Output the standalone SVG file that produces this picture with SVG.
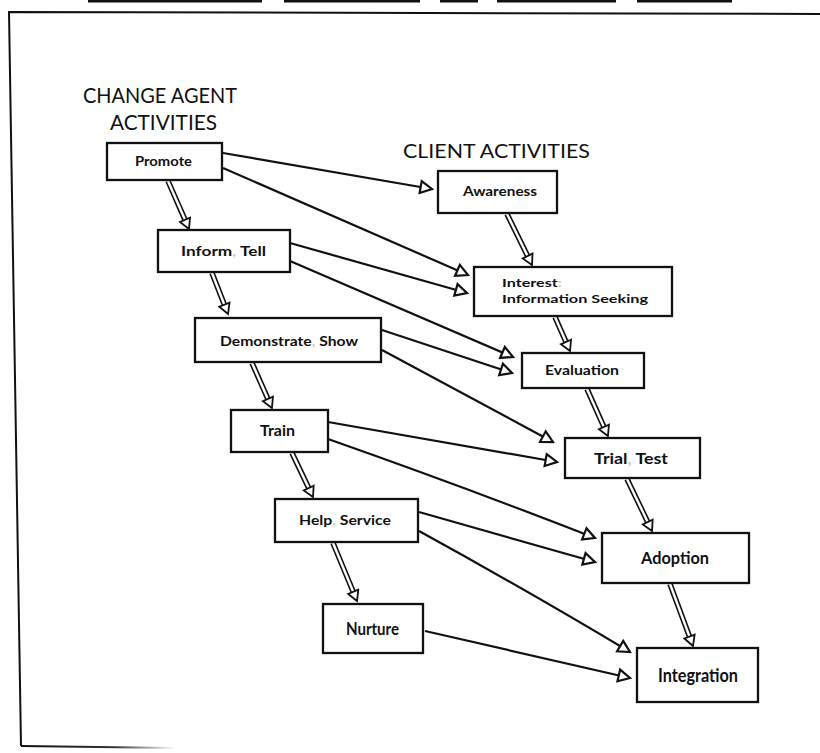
<svg xmlns="http://www.w3.org/2000/svg" width="820" height="753" viewBox="0 0 820 753">
<style>
.box{fill:#fff;stroke:#111;stroke-width:2.3}
.lbl{font-family:Lato,"Liberation Sans",sans-serif;font-weight:bold;fill:#111}
.hdr{font-family:Lato,"Liberation Sans",sans-serif;font-weight:normal;fill:#111}
.faint{fill:#c8c8c8}
.one{fill:none;stroke:#111;stroke-width:2.2;marker-end:url(#ah)}
.dout{fill:none;stroke:#111;stroke-width:5.6}
.din{fill:none;stroke:#fff;stroke-width:2.4;marker-end:url(#dh)}
.frame{fill:none;stroke:#111;stroke-width:2}
</style>
<defs>
<marker id="ah" viewBox="0 0 16 16" refX="14" refY="8" markerWidth="16" markerHeight="16" orient="auto" markerUnits="userSpaceOnUse">
<path d="M2.5,2 L14,8 L2.5,14 Z" fill="#fff" stroke="#111" stroke-width="2.2"/>
</marker>
<marker id="dh" viewBox="0 0 14 14" refX="2" refY="7" markerWidth="14" markerHeight="14" orient="auto" markerUnits="userSpaceOnUse">
<path d="M2,1.5 L12,7 L2,12.5 Z" fill="#fff" stroke="#111" stroke-width="1.8"/>
</marker>
<linearGradient id="fade" x1="21" y1="0" x2="175" y2="0" gradientUnits="userSpaceOnUse">
<stop offset="0" stop-color="#111"/><stop offset="0.6" stop-color="#333"/><stop offset="1" stop-color="#fff"/>
</linearGradient>
</defs>
<rect width="820" height="753" fill="#fff"/>
<g id="topbars" fill="#111">
<rect x="88" y="0" width="174" height="2.5"/>
<rect x="284" y="0" width="136" height="2.5"/>
<rect x="440" y="0" width="38" height="2.5"/>
<rect x="497" y="0" width="119" height="2.5"/>
<rect x="637" y="0" width="95" height="2.5"/>
</g>
<g id="frame">
<path class="frame" d="M820,14 L9,12 L21,746"/>
<path d="M21,746 L175,748" fill="none" stroke="url(#fade)" stroke-width="2"/>
</g>
<g id="headers">
<text class="hdr" x="83" y="103" font-size="20.5" textLength="154" lengthAdjust="spacingAndGlyphs">CHANGE AGENT</text>
<text class="hdr" x="110" y="130" font-size="20.5" textLength="107" lengthAdjust="spacingAndGlyphs">ACTIVITIES</text>
<text class="hdr" x="403" y="158" font-size="19" textLength="187" lengthAdjust="spacingAndGlyphs">CLIENT ACTIVITIES</text>
</g>
<g id="connectors">
<path class="one" d="M223,153 L432,189"/>
<path class="one" d="M223,168 L468,275"/>
<path class="one" d="M290,243 L467,293"/>
<path class="one" d="M290,261 L513,357"/>
<path class="one" d="M382,330 L512,373"/>
<path class="one" d="M382,350 L553,442"/>
<path class="one" d="M328,422 L557,462"/>
<path class="one" d="M328,439 Q470,489 595,538"/>
<path class="one" d="M419,512 Q510,538 595,562"/>
<path class="one" d="M419,531 Q530,592 630,652"/>
<path class="one" d="M425,631 Q530,655 630,678"/>
<g id="d1"><path class="dout" d="M168,181 L185,219.8"/><path class="din" d="M168,181 L185,219.8"/></g>
<g id="d2"><path class="dout" d="M212,273 L224.4,304.7"/><path class="din" d="M212,273 L224.4,304.7"/></g>
<g id="d3"><path class="dout" d="M252,363 L267.9,398.9"/><path class="din" d="M252,363 L267.9,398.9"/></g>
<g id="d4"><path class="dout" d="M292,453 L308.7,488"/><path class="din" d="M292,453 L308.7,488"/></g>
<g id="d5"><path class="dout" d="M333,543 L353.2,591.8"/><path class="din" d="M333,543 L353.2,591.8"/></g>
<g id="d6"><path class="dout" d="M507,214 L527.6,256"/><path class="din" d="M507,214 L527.6,256"/></g>
<g id="d7"><path class="dout" d="M555,317 L566,341.9"/><path class="din" d="M555,317 L566,341.9"/></g>
<g id="d8"><path class="dout" d="M587,389 L603.9,426.9"/><path class="din" d="M587,389 L603.9,426.9"/></g>
<g id="d9"><path class="dout" d="M627,479 L647.7,522"/><path class="din" d="M627,479 L647.7,522"/></g>
<g id="d10"><path class="dout" d="M670,584 L689.5,636.6"/><path class="din" d="M670,584 L689.5,636.6"/></g>
</g>
<g id="promote"><rect class="box" x="107" y="143" width="115" height="37"/><text class="lbl" x="135" y="166" font-size="12.5" textLength="57" lengthAdjust="spacingAndGlyphs">Promote</text></g>
<g id="awareness"><rect class="box" x="438" y="171" width="119" height="42"/><text class="lbl" x="463" y="196" font-size="12.5" textLength="74" lengthAdjust="spacingAndGlyphs">Awareness</text></g>
<g id="inform"><rect class="box" x="158" y="230" width="132" height="42"/><text class="lbl" x="181" y="256" font-size="12.5" textLength="85" lengthAdjust="spacingAndGlyphs">Inform<tspan class="faint">,</tspan> Tell</text></g>
<g id="interest"><rect class="box" x="474" y="267" width="198" height="49"/><text class="lbl" x="502" y="287" font-size="12" textLength="60" lengthAdjust="spacingAndGlyphs">Interest<tspan class="faint">:</tspan></text><text class="lbl" x="502" y="303" font-size="12" textLength="146" lengthAdjust="spacingAndGlyphs">Information Seeking</text></g>
<g id="demonstrate"><rect class="box" x="195" y="318" width="186" height="44"/><text class="lbl" x="220" y="346" font-size="13.5" textLength="138" lengthAdjust="spacingAndGlyphs">Demonstrate<tspan class="faint">,</tspan> Show</text></g>
<g id="evaluation"><rect class="box" x="522" y="353" width="122" height="35"/><text class="lbl" x="545" y="375" font-size="13.5" textLength="74" lengthAdjust="spacingAndGlyphs">Evaluation</text></g>
<g id="train"><rect class="box" x="231" y="410" width="97" height="42"/><text class="lbl" x="260" y="436" font-size="14.5" textLength="35" lengthAdjust="spacingAndGlyphs">Train</text></g>
<g id="trial"><rect class="box" x="565" y="438" width="135" height="40"/><text class="lbl" x="594" y="464" font-size="14.5" textLength="74" lengthAdjust="spacingAndGlyphs">Trial<tspan class="faint">,</tspan> Test</text></g>
<g id="help"><rect class="box" x="275" y="499" width="143" height="43"/><text class="lbl" x="299" y="525" font-size="13.5" textLength="92" lengthAdjust="spacingAndGlyphs">Help<tspan class="faint">,</tspan> Service</text></g>
<g id="adoption"><rect class="box" x="602" y="533" width="147" height="50"/><text class="lbl" x="641" y="564" font-size="17" textLength="68" lengthAdjust="spacingAndGlyphs">Adoption</text></g>
<g id="nurture"><rect class="box" x="323" y="604" width="100" height="49"/><text class="lbl" x="346" y="635" font-size="16.5" textLength="53" lengthAdjust="spacingAndGlyphs">Nurture</text></g>
<g id="integration"><rect class="box" x="637" y="648" width="121" height="54"/><text class="lbl" x="658" y="682" font-size="18" textLength="80" lengthAdjust="spacingAndGlyphs">Integration</text></g>
</svg>
